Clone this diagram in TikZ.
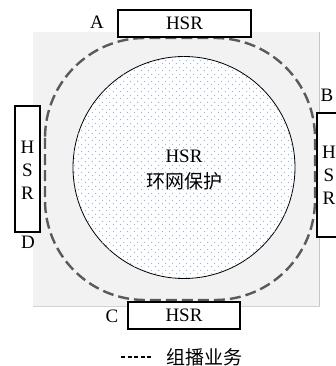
\documentclass[tikz,border=0pt]{standalone}
\usepackage{fontspec}
\setmainfont{Liberation Serif}
\newfontfamily\cjk{Noto Sans CJK SC}
\usetikzlibrary{patterns}
\definecolor{dotblue}{RGB}{140,180,225}
\definecolor{ringgray}{RGB}{90,90,90}
\definecolor{bggray}{RGB}{242,242,242}
\pgfdeclarepatternformonly{bluedots}{\pgfpointorigin}{\pgfpoint{7pt}{7pt}}{\pgfpoint{7pt}{7pt}}{%
  \pgfpathcircle{\pgfpoint{1.75pt}{1.75pt}}{0.7pt}%
  \pgfpathcircle{\pgfpoint{5.25pt}{5.25pt}}{0.7pt}%
  \pgfusepath{fill}}
\tikzset{
  hsrbox/.style={draw=black, line width=1.2pt, fill=white, inner sep=0pt},
  lbl/.style={font=\fontsize{19}{23}\selectfont, inner sep=0pt},
  vtext/.style={font=\fontsize{19}{23}\selectfont, align=center, inner sep=0pt},
  ring/.style={draw=ringgray, line width=2.4pt, dash pattern=on 11pt off 5pt, rounded corners=100pt},
}
\begin{document}
\begin{tikzpicture}[x=1pt,y=-1pt]
\useasboundingbox (0,0) rectangle (336,366);
% background
\fill[bggray] (33,32) rectangle (320,307);
\draw[gray!45, line width=1pt] (319,32) -- (319,307);
\draw[gray!35, line width=1pt] (33,306) -- (320,306);
% dashed ring
\draw[ring] (45,38) rectangle (315,300);
% central circle
\node[circle, minimum size=222pt, inner sep=0pt, draw=black, line width=0.8pt, fill=white,
      postaction={pattern=bluedots, pattern color=dotblue}] (core) at (184,167.5) {};
\node[lbl] (coreA) at (184,156) {HSR};
\node[lbl] (coreB) at (184,181) {\cjk 环网保护};
% HSR boxes
\node[hsrbox, minimum width=133pt, minimum height=27pt, lbl] (top) at (184.5,23.5) {HSR};
\node[hsrbox, minimum width=112pt, minimum height=27pt, lbl] (bot) at (184,315.5) {HSR};
\node[hsrbox, minimum width=25pt, minimum height=126pt] (left) at (27.5,169) {};
\node[vtext] (lefttext) at (27.5,170) {H\\S\\R};
\node[hsrbox, minimum width=24pt, minimum height=124pt] (right) at (329,175) {};
\node[vtext] (righttext) at (329,175) {H\\S\\R};
% corner labels
\node[lbl] (A) at (97,22) {A};
\node[lbl] (B) at (327,95) {B};
\node[lbl] (C) at (112,316) {C};
\node[lbl] (D) at (28,242) {D};
% legend
\coordinate (legA) at (121,357);
\coordinate (legB) at (152,357);
\draw[black, line width=1.1pt, dash pattern=on 4pt off 2.6pt] (legA) -- (legB);
\node[lbl, anchor=west] (legtext) at (166,357) {\cjk 组播业务};
\end{tikzpicture}
\end{document}
